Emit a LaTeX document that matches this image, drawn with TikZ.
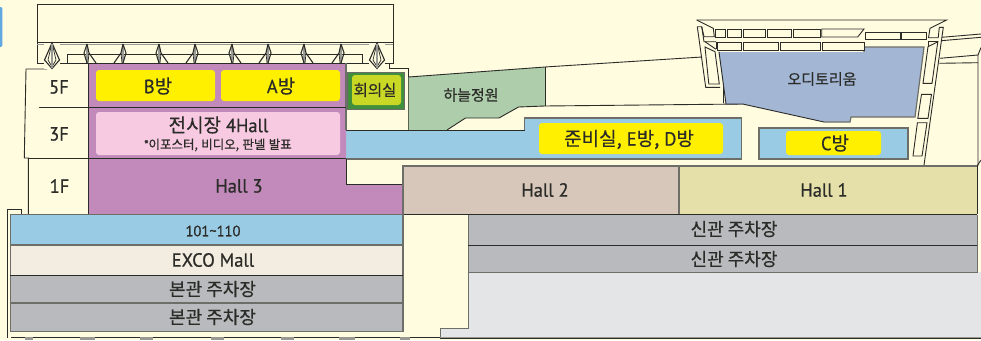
\documentclass[tikz,border=0pt]{standalone}
\usepackage{fontspec}
\setmainfont[FakeBold=0.7,FakeStretch=0.97]{PT Sans}
\newfontfamily\kr[FakeBold=0.5]{Noto Sans CJK KR}
\definecolor{bgc}{HTML}{FFFCE0}
\definecolor{purp}{HTML}{C18ABB}
\definecolor{sky}{HTML}{9ACBE5}
\definecolor{ylw}{HTML}{FFF000}
\definecolor{pinkb}{HTML}{F8CAE2}
\definecolor{grn}{HTML}{3F8F3C}
\definecolor{lime}{HTML}{C9D825}
\definecolor{garden}{HTML}{AECDAA}
\definecolor{audi}{HTML}{A3B7D5}
\definecolor{hallb}{HTML}{D7C7BA}
\definecolor{hallc}{HTML}{E5E0A9}
\definecolor{mall}{HTML}{F3ECE0}
\definecolor{park}{HTML}{B9BABD}
\definecolor{lgrey}{HTML}{E4E5E7}
\definecolor{ink}{HTML}{2B2B28}
\definecolor{edgeg}{HTML}{6E6E68}
\definecolor{tabb}{HTML}{5FA8E2}
\tikzset{
  ln/.style={draw=ink,line width=0.9pt},
  ed/.style={draw=edgeg,line width=1.2pt},
  panel/.style={draw=ink,line width=0.9pt,fill=bgc},
  lbl/.style={text=ink,inner sep=0pt,font=\fontsize{19}{21}\selectfont},
  lbls/.style={text=ink,inner sep=0pt,font=\fontsize{15}{17}\selectfont},
  yrm/.style={fill=ylw,rounded corners=3pt,draw=none},
  truss/.style={draw=ink,line width=1.1pt},
  trussg/.style={draw=edgeg!70,line width=1.5pt}
}
\begin{document}
\begin{tikzpicture}[x=1pt,y=-1pt]
\useasboundingbox (0,0) rectangle (981,340);
\fill[bgc] (0,0) rectangle (981,340);
% blue tab
\fill[tabb,rounded corners=2pt] (-4,7) rectangle (2.4,47);
% light grey ground
\fill[lgrey] (468,272) -- (468,328) -- (440,328) -- (440,337) -- (981,337) -- (981,272) -- cycle;
\draw[ed,line width=0.9pt] (468,272) -- (468,328) -- (440,328) -- (440,337);
\draw[edgeg!70,line width=0.8pt] (440,337) -- (981,337);
\draw[ink,line width=0.8pt] (440,338.6) -- (981,338.6);
% outer building lines
\draw[ln] (46.7,63) -- (46.7,69) -- (26,69) -- (24.3,158) -- (28.3,158) -- (28.3,214);
\draw[ln] (21.7,214) -- (21.7,209.3) -- (7.3,209.3) -- (7.3,338);
\draw[ln] (389,63) -- (389,68) -- (408,68) -- (408,130);
% bottom strip
\foreach \a/\b in {11/25,33/80,95/140,153/211,224/281,294/339,355/400,410/440}{
  \draw[ink,line width=1.1pt] (\a,337.5) -- (\b,337.5);
}
\foreach \a/\b in {25/33,80/95,140/153,211/224,281/294,339/355,400/410}{
  \fill[edgeg!70] (\a,336.5) rectangle (\b,340);
}
% roof
\draw[ln,fill=bgc] (37,4) rectangle (393,63);
\draw[ln] (37,42.5) -- (393,42.5);
\draw[edgeg!70,line width=1.2pt] (37,44.5) -- (393,44.5);
\draw[ln] (67,63) -- (67,54) -- (362,54) -- (362,63);
% trusses
\foreach \x/\d in {87/1,123/-1,159/1,195/-1,232/1,268/-1,304/1,341/-1}{
  \draw[trussg] (\x,44) -- (\x,63);
  \draw[truss] (\x,44) -- (\x-3*\d,53) -- (\x,63);
  \draw[truss] (\x,44) -- (\x+2*\d,53) -- (\x+9*\d,63);
  \draw[truss,line width=0.7pt] (\x+2*\d,53) -- (\x+1*\d,63);
}
\foreach \x in {52,377}{
  \fill[bgc] (\x-8,44) rectangle (\x+8,69);
  \draw[truss] (\x,43) -- (\x-7.5,60) -- (\x,68.5) -- (\x+7.5,60) -- cycle;
  \draw[truss,line width=0.7pt] (\x-1,47) -- (\x-4,60) -- (\x-1,65);
  \draw[truss,line width=0.7pt] (\x+1,47) -- (\x+4,60) -- (\x+1,65);
  \draw[trussg,line width=1.1pt] (\x,44) -- (\x,68);
}
% garden
\fill[garden] (408.5,77) -- (545,67) -- (545,106) -- (518.5,107) -- (499,118) -- (465.5,118) -- (447,130) -- (408.5,130) -- cycle;
\draw[ln] (408.5,77) -- (545,67) -- (702,57);
\draw[ln] (545,67) -- (545,106);
\draw[ln] (447,130) -- (465.5,118) -- (499,118) -- (518.5,107) -- (545,106) -- (742.6,104);
% sky band
\fill[sky] (346,130) -- (524.5,130) -- (524.5,118) -- (741.5,118) -- (741.5,159) -- (346,159) -- cycle;
\draw[ln] (346,130) -- (524.5,130);
\draw[ed] (524.5,130) -- (524.5,118) -- (741.5,118) -- (741.5,159) -- (346,159);
\draw[yrm] (539,123) rectangle (723,154);
\fill[sky] (759,128) rectangle (908,159);
\draw[ed] (759,128) rectangle (908,159);
\draw[yrm] (786,131) rectangle (881,155);
% purple
\fill[purp] (88,63) -- (346,63) -- (346,184) -- (403,184) -- (403,214) -- (88,214) -- cycle;
\draw[ln] (88,214) -- (88,63) -- (346,63);
\draw[ed] (346,63) -- (346,130);
\draw[ln] (346,159) -- (346,184) -- (403,184);
\draw[ln] (39,107.7) -- (346,107.7);
\draw[ln] (28,158.3) -- (346,158.3);
\draw[yrm] (96,70) rectangle (215,101);
\draw[yrm] (221,70) rectangle (340,101);
\draw[fill=pinkb,draw=none,rounded corners=3pt] (96,112) rectangle (340,155);
% green
\draw[fill=grn,draw=ink!70,line width=1pt] (347,72) rectangle (404,109);
\fill[lime,rounded corners=3pt] (352,75) rectangle (401,105);
% auditorium
\fill[audi] (718.5,52) -- (864,52) -- (864,47) -- (924,47) -- (915,117) -- (851,117) -- (850,122) -- (824,122) -- (742.6,104) -- (726,104) -- cycle;
\draw[ed] (864,52) -- (864,47) -- (924,47) -- (915,117) -- (851,117) -- (850,122) -- (824,122);
\draw[ln] (824,122) -- (742.6,104) -- (726,104);
\draw[ln] (719,51.7) -- (726,104);
\draw[ln] (697.3,26.7) -- (705.7,87.3) -- (720,87.3);
\draw[ln] (723,87.3) -- (723,103);
\draw[ln] (696.7,20) -- (946.7,20) -- (930,28.3) -- (928.5,37.7) -- (938.2,37.7) -- (939.3,27.3) -- (943.3,27.3) -- (924,165);
\draw[ln] (696.7,20) -- (713.3,28.3) -- (714.3,36.7) -- (704,36.7) -- (701.7,26.7) -- (697.3,26.7);
\draw[ln] (701.7,26.7) -- (704,41.7) -- (716,41.7);
\foreach \a/\b in {715/725,727.7/741,743.3/765,767.3/791.7,793.7/820}{
  \draw[panel] (\a,29) rectangle (\b,37);
}
\draw[panel] (821.7,29) -- (864,29) -- (857.7,37) -- (821.7,37) -- cycle;
\draw[panel] (865.3,32.7) rectangle (900,39.3);
\draw[panel] (901.7,32.7) rectangle (926,39.3);
\foreach \a/\b in {717.7/741,743.3/778.3,780.7/820,822.3/864}{
  \draw[panel] (\a,42.3) rectangle (\b,50.7);
}
\draw[panel] (705,47) -- (715,51.7) -- (719.3,84) -- (708.8,84) -- cycle;
\draw[ln] (705,41.7) -- (716,49.3);
\draw[ln] (716,41.7) -- (716,49.3);
\draw[panel] (928,46.7) -- (937.8,41.7) -- (932,83.3) -- (923,83.3) -- cycle;
\draw[ln] (928,41.7) -- (938,41.7);
\draw[ln] (928,46.7) -- (928,41.7);
\draw[panel] (921.5,94.3) -- (931.5,94.3) -- (928,118.3) -- (917.8,118.3) -- cycle;
\draw[panel] (917.4,122.7) -- (927,122.7) -- (922,156) -- (913,156) -- cycle;
% far right lines
\draw[ln] (941.7,37.3) -- (981,34);
\draw[ln] (941.2,40.7) -- (981,37.3);
\draw[ln] (940,58.3) -- (978,55);
\draw[ln] (939.4,63.3) -- (978,62.7);
\draw[ln] (981,47.5) -- (978,55) -- (978,166);
\draw[ln] (977,166) -- (981,160);
% halls
\fill[hallb] (403,166) rectangle (679,214);
\fill[hallc] (679,166) rectangle (977,214);
\draw[ed] (403,214) -- (403,166) -- (977,166);
\draw[ed] (679,166) -- (679,214);
\draw[ln] (88,214) -- (977,214);
\draw[ln] (977,166) -- (977,214);
% lower left
\fill[sky] (10.3,214.3) rectangle (403,245);
\fill[mall] (10.3,245) rectangle (403,275.5);
\fill[park] (10.3,275.5) rectangle (403,331.5);
\draw[ed] (10.3,214.3) rectangle (403,331.5);
\draw[ed] (10.3,245) -- (403,245);
\draw[ln] (10.3,275.5) -- (403,275.5);
\draw[ed] (10.3,303) -- (403,303);
% lower right
\fill[park] (468,214.5) rectangle (977,272);
\draw[ed,line width=0.9pt] (468,272) -- (977,272) -- (977,214.5);
\draw[ed,line width=0.9pt] (468,214.5) -- (468,272);
\draw[ln] (468,245.5) -- (977,245.5);
% labels
\node[lbl] (f5) at (59,87) {5F};
\node[lbl] (f3) at (59,134) {3F};
\node[lbl] (f1) at (59.5,186) {1F};
\node[lbl] (rb) at (158,86) {B{\kr 방}};
\node[lbl] (ra) at (281,86) {A{\kr 방}};
\node[lbl] (hall4) at (218.5,125) {{\kr 전시장} 4Hall};
\node[text=ink,inner sep=0pt,font=\fontsize{12.5}{14}\selectfont] (poster) at (218,145) {*{\kr 이포스터,} {\kr 비디오,} {\kr 판넬} {\kr 발표}};
\node[lbls,font=\kr\fontsize{15.5}{17}\selectfont] (meet) at (375,90) {회의실};
\node[lbls,font=\kr\fontsize{15}{17}\selectfont] (gard) at (471,95) {하늘정원};
\node[lbls,font=\kr\fontsize{15}{17}\selectfont] (aud) at (822,79) {오디토리움};
\node[lbl] (res) at (629,139.5) {{\kr 준비실,} E{\kr 방,} D{\kr 방}};
\node[lbl] (rc) at (835,143) {C{\kr 방}};
\node[lbl] (h3) at (239,186) {Hall 3};
\node[lbl] (h2) at (545,190) {Hall 2};
\node[lbl] (h1) at (824,190) {Hall 1};
\node[lbls,font=\fontsize{15}{17}\selectfont] (n101) at (213,231) {101\textasciitilde110};
\node[lbl] (mallt) at (213,260) {EXCO Mall};
\node[lbls,font=\kr\fontsize{18}{20}\selectfont] (p1) at (212.5,289) {본관 주차장};
\node[lbls,font=\kr\fontsize{18}{20}\selectfont] (p2) at (212.5,317) {본관 주차장};
\node[lbls,font=\kr\fontsize{18}{20}\selectfont] (p3) at (734,229) {신관 주차장};
\node[lbls,font=\kr\fontsize{18}{20}\selectfont] (p4) at (734,259) {신관 주차장};
\end{tikzpicture}
\end{document}
